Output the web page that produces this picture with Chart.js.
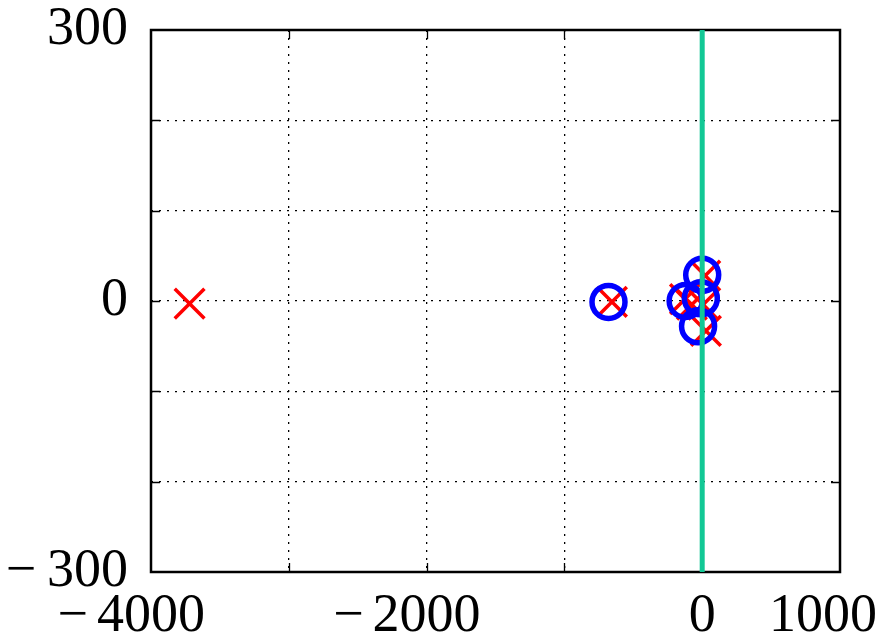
<!DOCTYPE html>
<html>
<head>
<meta charset="utf-8">
<script src="https://cdn.jsdelivr.net/npm/chart.js@4/dist/chart.umd.min.js"></script>
<style>
  html, body { margin: 0; padding: 0; background: #fff; }
  #wrap { width: 881px; height: 636px; }
</style>
</head>
<body>
<div id="wrap"><canvas id="c" width="881" height="636"></canvas></div>
<script>
// Zeros (blue circles)
const zerosX = [-680, -120, 0, -10, -30];
const zerosY = [-1, 0, 29, 3, -28];
// Poles (red crosses)
const polesX = [-3720, -655, -125, -75, 7, 22, 27];
const polesY = [-3, -1, 2, -4, -4, 28, -33];
// Imaginary axis marker
const axisLineX = [0, 0];
const axisLineY = [-300, 300];
// Labelled tick values
const xLabelled = [-4000, -2000, 0, 1000];
const yLabelled = [-300, 0, 300];

const FAMILY = "'Liberation Serif', 'DejaVu Serif', serif";
const FONT = { family: FAMILY, size: 54 };

function fmt(v) {
  return v < 0 ? '\u2212\u2009' + Math.abs(v) : String(v);
}
function pts(xs, ys) {
  return xs.map((x, i) => ({ x: x, y: ys[i] }));
}

// Solid frame plus short inward tick marks on all four sides
const framePlugin = {
  id: 'frame',
  beforeDatasetsDraw(chart) {
    const { ctx, chartArea: a, scales } = chart;
    ctx.save();
    ctx.setLineDash([]);
    ctx.strokeStyle = '#000';
    ctx.lineWidth = 1.3;
    const len = 9;
    scales.x.ticks.forEach(t => {
      if (t.value <= scales.x.min || t.value >= scales.x.max) return;
      const px = Math.round(scales.x.getPixelForValue(t.value)) + 0.5;
      ctx.beginPath();
      ctx.moveTo(px, a.bottom); ctx.lineTo(px, a.bottom - len);
      ctx.moveTo(px, a.top); ctx.lineTo(px, a.top + len);
      ctx.stroke();
    });
    scales.y.ticks.forEach(t => {
      if (t.value <= scales.y.min || t.value >= scales.y.max) return;
      const py = Math.round(scales.y.getPixelForValue(t.value)) + 0.5;
      ctx.beginPath();
      ctx.moveTo(a.left, py); ctx.lineTo(a.left + len, py);
      ctx.moveTo(a.right, py); ctx.lineTo(a.right - len, py);
      ctx.stroke();
    });
    ctx.lineWidth = 2.5;
    ctx.strokeRect(a.left, a.top, a.right - a.left, a.bottom - a.top);
    ctx.restore();
  }
};

// x tick labels: digits centred under the tick, minus sign hanging to the left,
// kept inside the canvas at the right edge
const xLabelPlugin = {
  id: 'xLabels',
  afterDraw(chart) {
    const { ctx, scales, width } = chart;
    ctx.save();
    ctx.font = FONT.size + 'px ' + FAMILY;
    ctx.fillStyle = '#000';
    ctx.textAlign = 'left';
    ctx.textBaseline = 'alphabetic';
    const baseY = 631;
    xLabelled.forEach(v => {
      const digits = String(Math.abs(v));
      const w = ctx.measureText(digits).width;
      let left = scales.x.getPixelForValue(v) - w / 2;
      if (left + w > width - 4) left = width - 4 - w;
      ctx.fillText(digits, left, baseY);
      if (v < 0) {
        const mw = ctx.measureText('\u2212').width;
        ctx.fillText('\u2212', left - 9 - mw, baseY);
      }
    });
    ctx.restore();
  }
};

const edgeTransparent = (lo, hi) => ctx =>
  (ctx.tick && (ctx.tick.value <= lo || ctx.tick.value >= hi)) ? 'rgba(0,0,0,0)' : '#000';

new Chart(document.getElementById('c'), {
  type: 'scatter',
  data: {
    datasets: [
      {
        type: 'line',
        data: pts(axisLineX, axisLineY),
        borderColor: '#12c895',
        borderWidth: 5,
        pointRadius: 0,
        showLine: true,
        fill: false,
        order: 0
      },
      {
        data: pts(zerosX, zerosY),
        pointStyle: 'circle',
        pointRadius: 16.5,
        pointBorderWidth: 5.5,
        pointBackgroundColor: 'rgba(0,0,0,0)',
        pointBorderColor: '#0000ff',
        order: 1
      },
      {
        data: pts(polesX, polesY),
        pointStyle: 'crossRot',
        pointRadius: 21,
        pointBorderWidth: 3.5,
        pointBorderColor: '#ff0000',
        order: 2
      }
    ]
  },
  options: {
    responsive: false,
    animation: false,
    devicePixelRatio: 1,
    layout: { padding: { top: 30, right: 41, left: 0, bottom: 0 } },
    plugins: { legend: { display: false }, tooltip: { enabled: false } },
    scales: {
      x: {
        type: 'linear',
        min: -4000,
        max: 1000,
        border: { display: false, dash: [2, 6] },
        grid: { color: edgeTransparent(-4000, 1000), lineWidth: 1.3, drawTicks: false },
        ticks: { stepSize: 1000, autoSkip: false, display: false },
        afterFit(s) { s.height = 64; s.paddingLeft = 0; s.paddingRight = 0; }
      },
      y: {
        type: 'linear',
        min: -300,
        max: 300,
        border: { display: false, dash: [2, 6] },
        grid: { color: edgeTransparent(-300, 300), lineWidth: 1.3, drawTicks: false },
        ticks: {
          stepSize: 100,
          autoSkip: false,
          padding: 23,
          color: '#000',
          font: FONT,
          callback: v => yLabelled.includes(v) ? fmt(v) : ''
        },
        afterFit(s) { s.width = 151; s.paddingTop = 0; s.paddingBottom = 0; }
      }
    }
  },
  plugins: [framePlugin, xLabelPlugin]
});
</script>
</body>
</html>
